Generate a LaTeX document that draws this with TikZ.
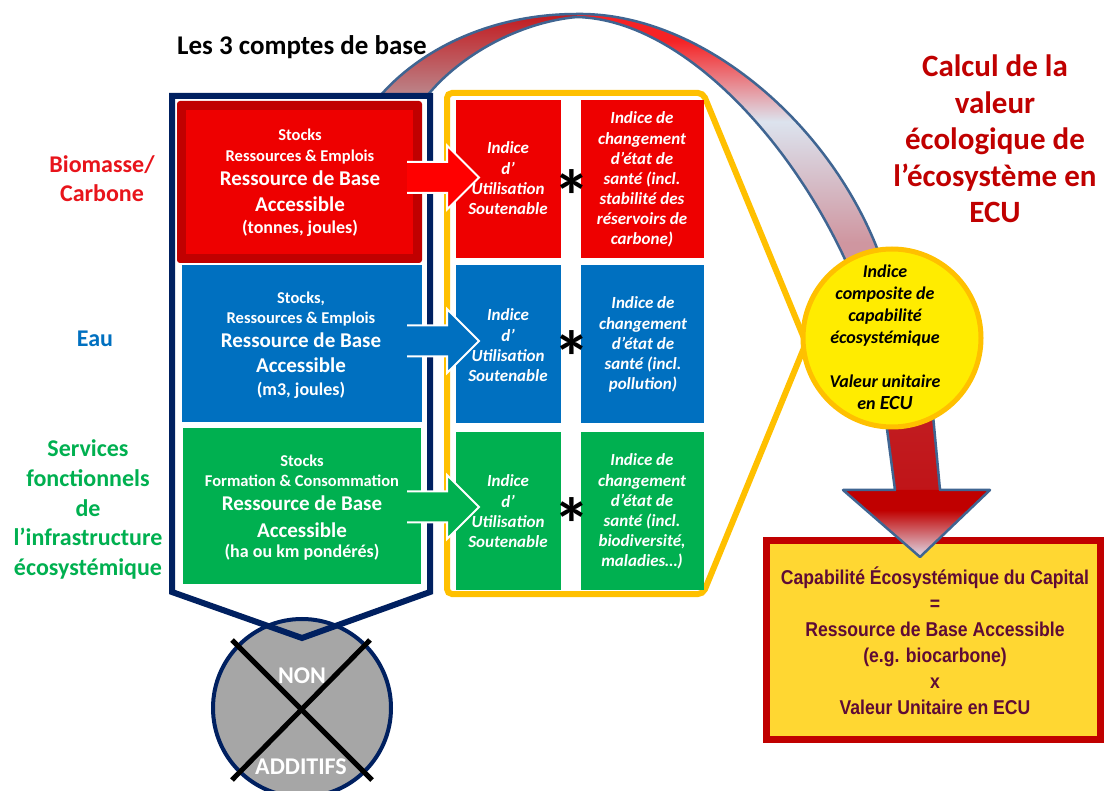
\documentclass[tikz,border=0pt]{standalone}
\usepackage{fontspec}
\setmainfont{Carlito}
\newfontfamily\narrowfont[FakeStretch=0.88]{Liberation Sans}
\definecolor{cRed}{HTML}{EE0000}
\definecolor{cArrRed}{HTML}{FF0000}
\definecolor{cDarkRed}{HTML}{C00000}
\definecolor{cBlue}{HTML}{0070C0}
\definecolor{cGreen}{HTML}{00B050}
\definecolor{cNavy}{HTML}{002060}
\definecolor{cGold}{HTML}{FFC000}
\definecolor{cYellow}{HTML}{FFEC00}
\definecolor{cBoxFill}{HTML}{FFD732}
\definecolor{cMaroon}{HTML}{5E0B36}
\definecolor{cSteel}{HTML}{3F6592}
\definecolor{cGrey}{HTML}{A6A6A6}
\definecolor{cLblRed}{HTML}{E8141B}
\definecolor{aRed}{HTML}{F52325}
\definecolor{aPale}{HTML}{DCE3EE}
\definecolor{aRose}{HTML}{CF96A0}
\definecolor{aRedDark}{HTML}{C21A1F}
\definecolor{aRoseL}{HTML}{BB878C}
\definecolor{aLav}{HTML}{E0DCEA}
\definecolor{aShaftTop}{HTML}{C3262B}
\definecolor{aShaftBot}{HTML}{C01418}
\pgfdeclareverticalshading{arcR}{100bp}{color(0bp)=(aRose); color(35bp)=(aRose); color(56bp)=(aPale); color(70bp)=(aRed); color(100bp)=(aRed)}
\pgfdeclareverticalshading{headS}{100bp}{color(0bp)=(aLav); color(25bp)=(aLav); color(60bp)=(cDarkRed); color(100bp)=(cDarkRed)}
\newcommand\stackat[6][]{%
  \foreach \s [count=\k from 0] in {#6}{%
    \node[anchor=base,#1] (#2\k) at (#3,{#4+\k*#5}) {\s};}}
\begin{document}
\begin{tikzpicture}[x=1pt,y=-1pt,
  every node/.style={inner sep=0pt,outer sep=0pt},
  idx/.style={text=white,font=\fontsize{17}{20}\selectfont\bfseries\itshape},
  stk/.style={text=white,font=\fontsize{16.5}{20}\selectfont\bfseries,anchor=base},
  big/.style={text=white,font=\fontsize{21}{24}\selectfont\bfseries,anchor=base},
  paren/.style={text=white,font=\fontsize{18}{20}\selectfont\bfseries,anchor=base},
  circ/.style={text=black,font=\fontsize{18}{20}\selectfont\bfseries\itshape},
  lbl/.style={font=\fontsize{24}{28}\selectfont\bfseries},
  ttl/.style={text=cDarkRed,font=\fontsize{31}{34}\selectfont\bfseries},
  ecu/.style={text=cMaroon,font=\fontsize{20}{24}\narrowfont\bfseries},
  arcline/.style={draw=cSteel,line width=2.5pt,line join=round},
  ast/.style={text=black,font=\fontsize{74}{74}\selectfont\bfseries},
  blockarrow/.style={draw=white,line width=2pt,line join=miter}
]
\useasboundingbox[fill=white] (0,0) rectangle (1104,791);

% ---- result box
\node[draw=cDarkRed,line width=7pt,fill=cBoxFill,minimum width=334pt,minimum height=198pt] (ecbox) at (933,640) {};
\stackat[ecu]{e}{935}{584}{26}{Capabilité Écosystémique du Capital,=,Ressource de Base Accessible,(e.g. biocarbone),x,Valeur Unitaire en ECU}

% ---- big curved arrow
\shade[top color=aRedDark,bottom color=aRoseL]
  (380,96) .. controls (420,50) and (490,14) .. (577,14) -- (577,17)
  .. controls (520,22) and (460,55) .. (427,96) -- cycle;
\shade[shading=arcR]
  (577,14) .. controls (715,12) and (860,150) .. (893,300) -- (862,300)
  .. controls (810,160) and (690,20) .. (577,17) -- cycle;
\draw[arcline] (380,96) .. controls (420,50) and (490,14) .. (577,14)
  .. controls (715,12) and (860,150) .. (893,300);
\draw[arcline] (427,96) .. controls (460,55) and (520,22) .. (577,17)
  .. controls (690,20) and (810,160) .. (862,300);
\shade[top color=aShaftTop,bottom color=aShaftBot] (874,330) -- (895,491) -- (940,491) -- (925,330) -- cycle;
\shade[shading=headS] (843,490) -- (990,490) -- (920,557) -- cycle;
\draw[arcline] (874,330) -- (895,490) -- (843,490) -- (920,557) -- (990,490) -- (940,490) -- (925,330);

% ---- non additive circle
\node[circle,draw=cNavy,line width=4pt,fill=cGrey,minimum size=178pt] (nonadd) at (302,708) {};
\node[text=white,font=\fontsize{24}{28}\selectfont\bfseries,anchor=base] (non) at (302,683) {NON};
\node[text=white,font=\fontsize{24}{28}\selectfont\bfseries,anchor=base] (additifs) at (301,774) {ADDITIFS};
\coordinate (x1) at (232,640); \coordinate (x2) at (372,780);
\coordinate (x3) at (370,640); \coordinate (x4) at (232,780);
\draw[black,line width=5pt] (x1) -- (x2);
\draw[black,line width=5pt] (x3) -- (x4);

% ---- navy frame
\draw[cNavy,line width=6pt,line join=miter] (172,96) -- (430,96) -- (430,592) -- (302,638) -- (172,592) -- cycle;

% ---- base accounts
\node[fill=cDarkRed,rounded corners=3pt,minimum width=245pt,minimum height=162pt] (redout) at (299.5,182) {};
\node[fill=cRed,minimum width=227pt,minimum height=144pt] (redin) at (299.5,182) {};
\node[fill=cBlue,minimum width=240pt,minimum height=157pt] (bluebox) at (302,343.5) {};
\node[fill=cGreen,minimum width=238pt,minimum height=156pt] (greenbox) at (302,506) {};

\node[stk] (r1) at (300,141) {Stocks};
\node[stk] (r2) at (300,162) {Ressources \& Emplois};
\node[big] (r3) at (300,186) {Ressource de Base};
\node[big] (r4) at (300,212) {Accessible};
\node[paren] (r5) at (300,234) {(tonnes, joules)};

\node[stk] (b1) at (301,304) {Stocks,};
\node[stk] (b2) at (301,324) {Ressources \& Emplois};
\node[big] (b3) at (301,348) {Ressource de Base};
\node[big] (b4) at (301,373) {Accessible};
\node[paren] (b5) at (301,396) {(m3, joules)};

\node[stk] (g1) at (302,467) {Stocks};
\node[stk] (g2) at (302,487) {Formation \& Consommation};
\node[big] (g3) at (302,511) {Ressource de Base};
\node[big] (g4) at (302,537) {Accessible};
\node[paren] (g5) at (302,558) {(ha ou km pondérés)};

% ---- yellow frame and index boxes
\draw[cGold,line width=6pt,rounded corners=5pt] (447,93) -- (703,93) -- (806,343) -- (703,594) -- (447,594) -- cycle;
\node[fill=cRed,minimum width=105pt,minimum height=158pt] (ru) at (508.5,179) {};
\node[fill=cRed,minimum width=123pt,minimum height=158pt] (rh) at (642.5,179) {};
\node[fill=cBlue,minimum width=105pt,minimum height=158pt] (bu) at (508.5,344) {};
\node[fill=cBlue,minimum width=123pt,minimum height=158pt] (bh) at (642.5,344) {};
\node[fill=cGreen,minimum width=105pt,minimum height=158pt] (gu) at (508.5,511) {};
\node[fill=cGreen,minimum width=123pt,minimum height=158pt] (gh) at (642.5,511) {};

\stackat[idx]{rl}{508}{154}{20.3}{Indice,d’,Utilisation,Soutenable}
\stackat[idx]{rr}{642}{124}{20.1}{Indice de,changement,d’état de,santé (incl.,stabilité des,réservoirs de,carbone)}
\stackat[idx]{bl}{508}{321}{20.3}{Indice,d’,Utilisation,Soutenable}
\stackat[idx]{br}{643}{309}{20.2}{Indice de,changement,d’état de,santé (incl.,pollution)}
\stackat[idx]{gl}{508}{487}{20.3}{Indice,d’,Utilisation,Soutenable}
\stackat[idx]{gr}{642}{466}{20.2}{Indice de,changement,d’état de,santé (incl.,{biodiversité,},maladies…)}

\node[ast] (ast1) at (572,196) {*};
\node[ast] (ast2) at (572,357) {*};
\node[ast] (ast3) at (572,524) {*};

% ---- block arrows
\foreach \c/\col [count=\n] in {177.5/cArrRed,341/cBlue,507/cGreen}{
  \fill[\col] (407,\c-15.5) -- (447,\c-15.5) -- (447,\c-32) -- (479,\c) -- (447,\c+32) -- (447,\c+15.5) -- (407,\c+15.5) -- cycle;
  \draw[blockarrow] (407,\c-15.5) -- (447,\c-15.5) -- (447,\c-32) -- (479,\c) -- (447,\c+32) -- (447,\c+15.5) -- (407,\c+15.5);
}

% ---- composite index circle
\node[circle,draw=cGold,line width=5pt,fill=cYellow,minimum size=178pt] (capab) at (892,338) {};
\stackat[circ]{c}{885}{278}{22}{Indice,composite de,capabilité,écosystémique}
\node[circ,anchor=base] (c4) at (885,388) {Valeur unitaire};
\node[circ,anchor=base] (c5) at (885,410) {en {\fontsize{20}{22}\selectfont ECU}};

% ---- labels
\node[font=\fontsize{27}{30}\selectfont\bfseries,anchor=base] (title) at (302,55) {Les 3 comptes de base};
\stackat[ttl]{t}{995}{77}{36.4}{Calcul de la,valeur,écologique de,l’écosystème en,ECU}
\stackat[lbl,text=cLblRed]{bio}{102}{173}{28.7}{Biomasse/,Carbone}
\node[lbl,text=cBlue,anchor=base] (eau) at (95,347) {Eau};
\stackat[lbl,text=cGreen]{srv}{88}{457}{29.6}{Services,fonctionnels,de,l’infrastructure,écosystémique}
\end{tikzpicture}
\end{document}
